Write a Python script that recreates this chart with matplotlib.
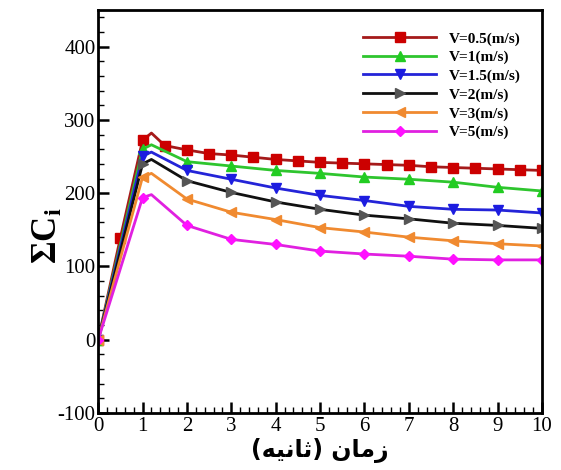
import matplotlib
matplotlib.use("Agg")
import matplotlib.pyplot as plt
from matplotlib.ticker import MultipleLocator

plt.rcParams['font.family'] = ['Liberation Serif', 'DejaVu Serif']
plt.rcParams['mathtext.fontset'] = 'custom'
plt.rcParams['mathtext.rm'] = 'Liberation Serif'
plt.rcParams['mathtext.bf'] = 'Liberation Serif:bold'
plt.rcParams['mathtext.it'] = 'Liberation Serif:italic'
plt.rcParams['axes.unicode_minus'] = False

# ---- data ----
x_red = [0, 0.5, 1, 1.2, 1.5, 2, 2.5, 3, 3.5, 4, 4.5, 5, 5.5, 6, 6.5, 7, 7.5, 8, 8.5, 9, 9.5, 10]
v05 = [0, 139, 272, 282, 265, 259, 254, 252, 249, 246, 244, 242, 241, 240, 239, 238, 236, 235, 234, 233, 232, 231]
x_int = [0, 1, 1.2, 2, 3, 4, 5, 6, 7, 8, 9, 10]
v1 = [0, 260, 266, 243, 237, 231, 227, 222, 219, 215, 208, 203]
v15 = [0, 251, 256, 231, 219, 207, 197, 190, 182, 178, 177, 173]
v2 = [0, 240, 246, 217, 201, 188, 178, 170, 165, 159, 156, 152]
v3 = [0, 222, 227, 192, 174, 164, 153, 147, 140, 135, 131, 128]
v5 = [0, 194, 198, 156, 137, 130, 121, 117, 114, 110, 109, 109]
labels = ['V=0.5(m/s)', 'V=1(m/s)', 'V=1.5(m/s)', 'V=2(m/s)', 'V=3(m/s)', 'V=5(m/s)']
xticks = [0, 1, 2, 3, 4, 5, 6, 7, 8, 9, 10]
yticks = [-100, 0, 100, 200, 300, 400]

# visual-order Persian label: "زمان (ثانیه)"
xlabel = "(" + "\uFEEA\uFBFF\uFEE7\uFE8E\uFE9B" + ")" + " " + "\uFEE5\uFE8E\uFEE3\uFEAF"

fig = plt.figure(figsize=(5.61, 4.70), dpi=100)
ax = fig.add_axes([0.175, 0.121, 0.791, 0.858])

mark_red = [i for i in range(len(x_red)) if x_red[i] != 1.2]
mark_int = [i for i in range(len(x_int)) if x_int[i] != 1.2]

styles = [
    (x_red, v05, 's', '#a51a1a', '#cc0000', mark_red),
    (x_int, v1, '^', '#2ec52e', '#22cc22', mark_int),
    (x_int, v15, 'v', '#2424d8', '#1c1ce0', mark_int),
    (x_int, v2, '>', '#101010', '#555555', mark_int),
    (x_int, v3, '<', '#f08a30', '#f08a30', mark_int),
    (x_int, v5, 'D', '#e020e0', '#ff10ff', mark_int),
]
for (xs, ys, m, lc, mc, me), lab in zip(styles, labels):
    ms = 5.5 if m == 'D' else 6.5
    ax.plot(xs, ys, color=lc, lw=2, marker=m, markersize=ms,
            markerfacecolor=mc, markeredgecolor=mc, markevery=me, label=lab)

ax.set_xlim(0, 10)
ax.set_ylim(-100, 450)
ax.set_xticks(xticks)
ax.set_yticks(yticks)
ax.xaxis.set_minor_locator(MultipleLocator(0.2))
ax.yaxis.set_minor_locator(MultipleLocator(20))
ax.tick_params(which='major', direction='in', length=8, width=1.8, labelsize=15,
               top=False, right=False)
ax.tick_params(axis='x', which='major', pad=3)
ax.tick_params(axis='y', which='major', pad=2)
ax.tick_params(which='minor', direction='in', length=4, width=1, top=False, right=False)
for s in ax.spines.values():
    s.set_linewidth(2)

ax.set_ylabel("ΣC$_\\mathbf{i}$", fontsize=25, fontweight='bold')
ax.yaxis.set_label_coords(-0.074, 0.44)
ax.set_xlabel(xlabel, fontsize=17, fontweight='bold', family=['DejaVu Sans'], labelpad=1)

leg = ax.legend(loc='upper right', bbox_to_anchor=(528 / 561, 1 - 24 / 470),
                bbox_transform=fig.transFigure, frameon=False,
                prop={'family': 'Liberation Serif', 'weight': 'bold', 'size': 11},
                handlelength=4.8, handletextpad=0.8, labelspacing=0.32, borderpad=0)

fig.savefig("out.png", dpi=100)
